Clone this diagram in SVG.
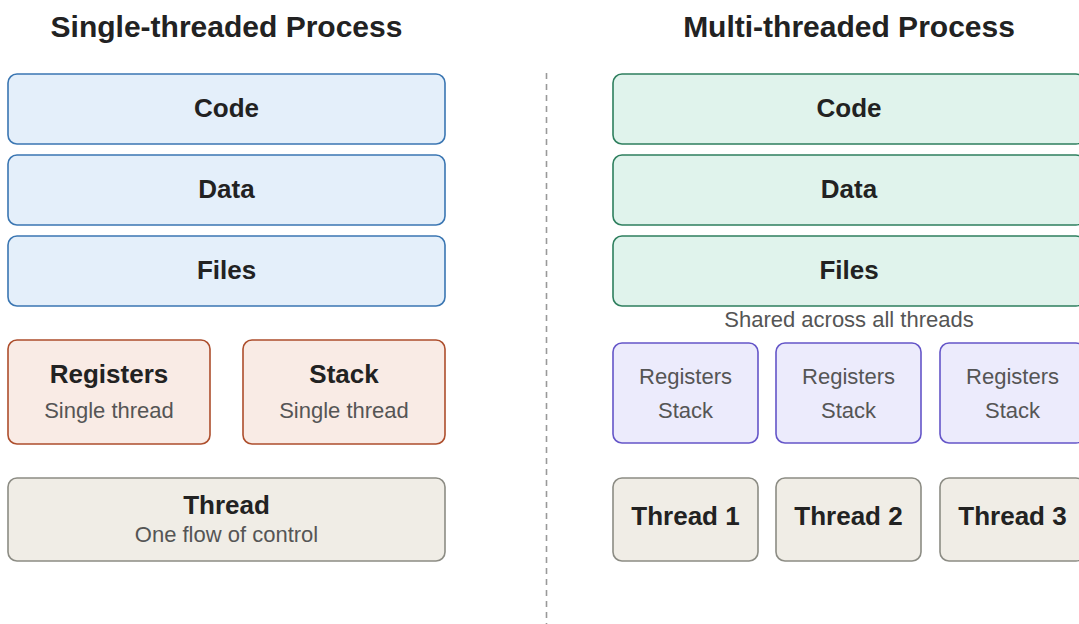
<svg xmlns="http://www.w3.org/2000/svg" width="1079" height="624" viewBox="0 0 1079 624">
<style>
text{font-family:"Liberation Sans",Arial,sans-serif;text-anchor:middle}
.title{font-size:30px;font-weight:bold;fill:#222}
.lbl{font-size:26px;font-weight:bold;fill:#222}
.sub{font-size:22px;fill:#555}
.blue{fill:#e4effa;stroke:#3a76b2;stroke-width:1.6}
.green{fill:#e0f3ec;stroke:#2e7f5e;stroke-width:1.6}
.red{fill:#f9ebe5;stroke:#ad4e2c;stroke-width:1.6}
.purple{fill:#ecebfc;stroke:#6455c8;stroke-width:1.6}
.gray{fill:#f0ede6;stroke:#8c8c84;stroke-width:1.6}
</style>
<rect width="1079" height="624" fill="#ffffff"/>
<text class="title" x="226.5" y="37">Single-threaded Process</text>
<text class="title" x="849" y="37">Multi-threaded Process</text>
<g id="connectors">
<line x1="546.5" y1="73" x2="546.5" y2="624" stroke="#999" stroke-width="1.6" stroke-dasharray="6 5"/>
</g>
<g id="s-code"><rect class="blue" x="8" y="74" width="437" height="70" rx="9"/><text class="lbl" x="226.5" y="117">Code</text></g>
<g id="s-data"><rect class="blue" x="8" y="155" width="437" height="70" rx="9"/><text class="lbl" x="226.5" y="198">Data</text></g>
<g id="s-files"><rect class="blue" x="8" y="236" width="437" height="70" rx="9"/><text class="lbl" x="226.5" y="279">Files</text></g>
<g id="s-registers"><rect class="red" x="8" y="340" width="202" height="104" rx="9"/><text class="lbl" x="109" y="383">Registers</text><text class="sub" x="109" y="418">Single thread</text></g>
<g id="s-stack"><rect class="red" x="243" y="340" width="202" height="104" rx="9"/><text class="lbl" x="344" y="383">Stack</text><text class="sub" x="344" y="418">Single thread</text></g>
<g id="s-thread"><rect class="gray" x="8" y="478" width="437" height="83" rx="9"/><text class="lbl" x="226.5" y="514">Thread</text><text class="sub" x="226.5" y="542">One flow of control</text></g>
<g id="m-code"><rect class="green" x="613" y="74" width="472" height="70" rx="9"/><text class="lbl" x="849" y="117">Code</text></g>
<g id="m-data"><rect class="green" x="613" y="155" width="472" height="70" rx="9"/><text class="lbl" x="849" y="198">Data</text></g>
<g id="m-files"><rect class="green" x="613" y="236" width="472" height="70" rx="9"/><text class="lbl" x="849" y="279">Files</text></g>
<text class="sub" x="849" y="327">Shared across all threads</text>
<g id="m-rs1"><rect class="purple" x="613" y="343" width="145" height="100" rx="9"/><text class="sub" x="685.5" y="384">Registers</text><text class="sub" x="685.5" y="418">Stack</text></g>
<g id="m-rs2"><rect class="purple" x="776" y="343" width="145" height="100" rx="9"/><text class="sub" x="848.5" y="384">Registers</text><text class="sub" x="848.5" y="418">Stack</text></g>
<g id="m-rs3"><rect class="purple" x="940" y="343" width="145" height="100" rx="9"/><text class="sub" x="1012.5" y="384">Registers</text><text class="sub" x="1012.5" y="418">Stack</text></g>
<g id="m-t1"><rect class="gray" x="613" y="478" width="145" height="83" rx="9"/><text class="lbl" x="685.5" y="525">Thread 1</text></g>
<g id="m-t2"><rect class="gray" x="776" y="478" width="145" height="83" rx="9"/><text class="lbl" x="848.5" y="525">Thread 2</text></g>
<g id="m-t3"><rect class="gray" x="940" y="478" width="145" height="83" rx="9"/><text class="lbl" x="1012.5" y="525">Thread 3</text></g>
</svg>
